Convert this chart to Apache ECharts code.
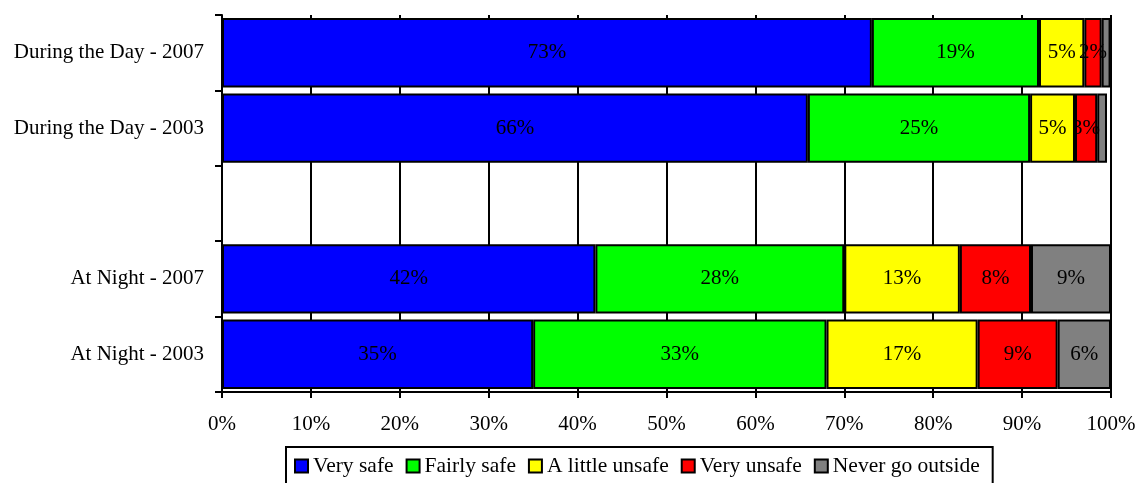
<!DOCTYPE html>
<html>
<head>
<meta charset="utf-8">
<script src="https://cdn.jsdelivr.net/npm/echarts@6/dist/echarts.min.js"></script>
<style>
  html, body { margin: 0; padding: 0; background: #fff; }
  #chart { width: 1143px; height: 483px; }
</style>
</head>
<body>
<div id="chart"></div>
<script>
// Rows from top to bottom; the blank entry leaves a spacer row between day and night
const categories = ['During the Day - 2007', 'During the Day - 2003', '', 'At Night - 2007', 'At Night - 2003'];

const seriesNames = ['Very safe', 'Fairly safe', 'A little unsafe', 'Very unsafe', 'Never go outside'];
const seriesColors = ['#0000ff', '#00ff00', '#ffff00', '#ff0000', '#808080'];

// Percent of respondents per row (null for the spacer row)
const verySafe      = [73.1, 65.9, null, 42, 35];
const fairlySafe    = [18.8, 25.0, null, 28, 33];
const littleUnsafe  = [5.1,  5.05, null, 13, 17];
const veryUnsafe    = [1.95, 2.5,  null, 8,  9];
const neverOutside  = [1.0,  1.1,  null, 9,  6];

const xTicks = [0, 10, 20, 30, 40, 50, 60, 70, 80, 90, 100];

const seriesValues = [verySafe, fairlySafe, littleUnsafe, veryUnsafe, neverOutside];
const FONT = '"Liberation Serif", "Times New Roman", serif';
const FS = 21;

const chart = echarts.init(document.getElementById('chart'), null, { renderer: 'canvas' });

chart.setOption({
  animation: false,
  backgroundColor: '#ffffff',
  textStyle: { fontFamily: FONT, color: '#000' },
  grid: { left: 222, right: 32, top: 15, height: 377, containLabel: false },
  xAxis: {
    type: 'value',
    min: xTicks[0],
    max: xTicks[xTicks.length - 1],
    interval: 10,
    axisLine: { show: true, lineStyle: { color: '#000', width: 2 } },
    axisTick: { show: true, length: 6, lineStyle: { color: '#000', width: 2 } },
    splitLine: { show: true, lineStyle: { color: '#000', width: 2 } },
    axisLabel: {
      color: '#000', fontFamily: FONT, fontSize: FS, margin: 22,
      formatter: v => v + '%'
    }
  },
  yAxis: {
    type: 'category',
    data: categories,
    inverse: true,
    axisLine: { show: true, lineStyle: { color: '#000', width: 2 } },
    axisTick: { show: true, length: 7, lineStyle: { color: '#000', width: 2 } },
    splitLine: { show: false },
    axisLabel: { color: '#000', fontFamily: FONT, fontSize: FS, margin: 18 }
  },
  legend: {
    data: seriesNames,
    left: 286,
    top: 447,
    orient: 'horizontal',
    icon: 'rect',
    itemWidth: 13,
    itemHeight: 13,
    itemGap: 12,
    padding: [8, 13, 40, 8],
    borderColor: '#000',
    borderWidth: 2,
    backgroundColor: '#fff',
    itemStyle: { borderColor: '#000', borderWidth: 2 },
    textStyle: { color: '#000', fontFamily: FONT, fontSize: 21.5 }
  },
  series: seriesNames.map((name, i) => ({
    name: name,
    type: 'bar',
    stack: 'total',
    barCategoryGap: '8%',
    data: seriesValues[i],
    itemStyle: { color: seriesColors[i], borderColor: '#000', borderWidth: 2 },
    label: {
      show: true,
      position: 'inside',
      color: '#000',
      fontFamily: FONT,
      fontSize: FS,
      formatter: p => (p.value == null || p.value < 1.5) ? '' : Math.round(p.value) + '%'
    }
  }))
});
</script>
</body>
</html>
